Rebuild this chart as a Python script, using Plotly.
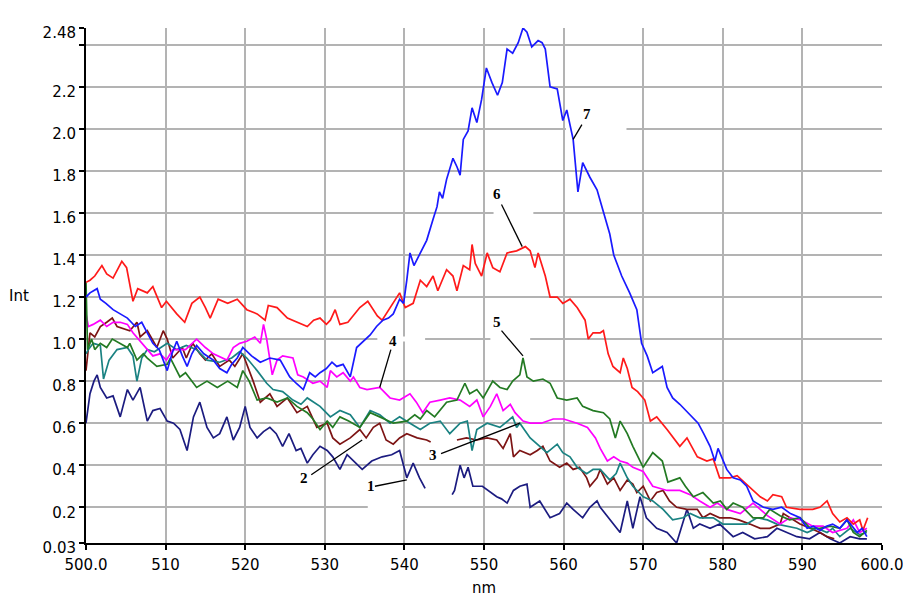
import plotly.graph_objects as go

# ---------------- data ----------------
x7 = [500.0, 500.5, 501.4, 501.8, 502.5, 503.4, 504.3, 505.2, 506.2, 507.0, 507.7, 508.4, 509.2, 510.2, 510.8,
      511.4, 512.1, 512.7, 513.3, 513.9, 514.8, 516.0, 516.8, 517.7, 518.3, 519.0, 519.7, 520.8, 521.9, 523.1,
      524.4, 525.0, 525.6, 526.4, 527.3, 528.1, 528.8, 529.4, 530.2, 530.9, 531.5, 532.3, 533.2, 534.0, 534.8,
      535.7, 536.5, 537.3, 538.0, 538.6, 539.4, 539.9, 540.3, 540.7, 541.2, 541.6, 542.2, 542.8, 543.6, 544.1,
      544.4, 544.8, 545.3, 546.1, 546.6, 547.0, 547.4, 548.0, 548.5, 549.1, 549.7, 550.3, 551.0, 551.7, 552.3,
      552.9, 553.6, 554.3, 554.9, 555.4, 556.0, 556.8, 557.3, 557.7, 558.3, 559.2, 559.9, 560.4, 561.2, 561.8,
      562.4, 563.3, 564.2, 565.0, 565.8, 566.3, 567.3, 568.3, 569.2, 569.8, 570.5, 571.2, 572.4, 573.0, 573.7,
      574.6, 575.6, 576.9, 577.6, 578.4, 579.0, 579.4, 580.5, 581.3, 582.2, 583.0, 583.8, 585.1, 586.3, 587.4,
      588.5, 589.7, 590.6, 591.4, 592.2, 593.0, 593.8, 594.7, 595.6, 596.3, 596.9, 597.5, 598.1]
y7 = [1.20, 1.22, 1.24, 1.19, 1.17, 1.14, 1.12, 1.10, 1.06, 1.08, 1.03, 0.98, 0.95, 0.85, 0.93,
      0.99, 0.92, 0.87, 0.93, 0.97, 0.93, 0.90, 0.86, 0.84, 0.88, 0.91, 0.96, 0.92, 0.89, 0.91,
      0.90, 0.86, 0.82, 0.79, 0.76, 0.84, 0.82, 0.84, 0.86, 0.89, 0.87, 0.88, 0.82, 0.96, 0.99,
      1.02, 1.06, 1.09, 1.10, 1.12, 1.19, 1.17, 1.28, 1.41, 1.35, 1.38, 1.43, 1.47, 1.57, 1.63,
      1.70, 1.67, 1.76, 1.86, 1.82, 1.78, 1.95, 1.99, 2.10, 2.03, 2.14, 2.29, 2.22, 2.16, 2.22,
      2.38, 2.36, 2.41, 2.48, 2.46, 2.39, 2.42, 2.41, 2.38, 2.20, 2.19, 2.04, 2.09, 1.95, 1.70,
      1.84, 1.77, 1.71, 1.60, 1.50, 1.40, 1.30, 1.22, 1.14, 0.98, 0.92, 0.84, 0.87, 0.77, 0.72,
      0.69, 0.65, 0.60, 0.55, 0.49, 0.42, 0.48, 0.38, 0.34, 0.33, 0.30, 0.23, 0.20, 0.19, 0.20,
      0.17, 0.15, 0.10, 0.11, 0.09, 0.11, 0.12, 0.10, 0.14, 0.11, 0.08, 0.10, 0.06]

x6 = [500.0, 500.5, 501.1, 502.0, 502.6, 503.4, 504.5, 505.1, 505.9, 506.5, 507.7, 508.4, 509.5, 510.1, 511.4,
      512.4, 513.3, 514.3, 515.0, 515.6, 516.6, 517.8, 519.0, 520.2, 521.5, 522.5, 522.9, 524.0, 525.3, 526.5,
      527.8, 528.6, 529.4, 530.2, 530.7, 531.3, 531.9, 532.9, 534.4, 535.4, 536.6, 537.2, 538.2, 539.4, 540.1,
      541.1, 542.0, 542.8, 543.6, 544.2, 545.3, 546.1, 546.6, 547.4, 548.2, 548.5, 548.9, 549.7, 550.4, 551.1,
      552.0, 552.9, 554.1, 555.2, 555.8, 556.4, 556.8, 557.7, 558.3, 559.2, 559.9, 560.8, 561.7, 562.7, 563.1,
      563.7, 564.6, 565.0, 565.6, 566.2, 567.1, 567.5, 568.0, 568.6, 569.3, 570.2, 570.9, 571.7, 573.0, 574.6,
      575.5, 576.8, 578.0, 578.8, 579.6, 580.9, 581.8, 583.0, 584.7, 585.6, 586.3, 587.4, 588.0, 589.7, 591.3,
      592.2, 593.1, 593.8, 594.7, 595.6, 596.4, 597.2, 597.6, 598.2]
y6 = [1.27, 1.28, 1.30, 1.35, 1.31, 1.29, 1.37, 1.34, 1.18, 1.24, 1.22, 1.25, 1.15, 1.18, 1.12,
      1.08, 1.17, 1.20, 1.15, 1.10, 1.19, 1.17, 1.19, 1.14, 1.12, 1.09, 1.16, 1.15, 1.10, 1.08,
      1.06, 1.09, 1.10, 1.07, 1.09, 1.14, 1.07, 1.08, 1.15, 1.18, 1.11, 1.09, 1.15, 1.22, 1.15,
      1.17, 1.28, 1.25, 1.30, 1.23, 1.33, 1.30, 1.23, 1.35, 1.33, 1.45, 1.36, 1.30, 1.41, 1.34,
      1.32, 1.41, 1.42, 1.44, 1.42, 1.34, 1.41, 1.30, 1.20, 1.20, 1.17, 1.19, 1.15, 1.09, 1.00,
      1.03, 1.03, 1.04, 0.93, 0.87, 0.84, 0.91, 0.86, 0.77, 0.75, 0.71, 0.61, 0.63, 0.57, 0.49,
      0.53, 0.44, 0.42, 0.43, 0.34, 0.34, 0.35, 0.31, 0.25, 0.23, 0.26, 0.25, 0.20, 0.19, 0.19,
      0.20, 0.23, 0.17, 0.13, 0.15, 0.12, 0.14, 0.09, 0.15]

x5 = [500.0, 500.2, 500.7, 501.1, 501.8, 502.6, 503.3, 504.3, 505.2, 505.5, 506.4, 507.2, 507.7, 508.9, 510.2,
      510.6, 511.8, 512.5, 513.9, 515.2, 516.5, 517.8, 519.0, 519.7, 520.5, 521.5, 522.7, 524.0, 525.3, 526.5,
      527.8, 528.5, 529.4, 530.3, 531.0, 531.9, 533.0, 534.4, 535.7, 536.9, 538.6, 540.3, 541.3, 542.0, 542.8,
      543.8, 545.3, 546.6, 547.6, 548.2, 549.1, 549.9, 551.1, 552.0, 552.9, 553.6, 554.5, 554.9, 555.4, 556.2,
      557.4, 558.3, 559.2, 560.4, 561.7, 562.4, 563.7, 565.0, 565.8, 566.5, 567.1, 568.0, 568.7, 570.0, 571.2,
      572.4, 573.1, 574.6, 575.3, 576.3, 577.5, 578.8, 579.7, 580.5, 581.3, 582.5, 583.8, 585.1, 585.9, 587.2,
      588.4, 589.7, 591.0, 592.2, 593.5, 594.7, 595.6, 596.4, 597.2, 598.1]
y5 = [1.27, 0.95, 1.00, 0.95, 0.98, 0.96, 1.00, 0.98, 0.96, 0.98, 0.90, 0.93, 0.91, 0.87, 0.88,
      0.91, 0.82, 0.84, 0.77, 0.80, 0.77, 0.80, 0.77, 0.85, 0.80, 0.71, 0.72, 0.70, 0.72, 0.68,
      0.65, 0.62, 0.57, 0.61, 0.58, 0.63, 0.61, 0.58, 0.65, 0.63, 0.60, 0.61, 0.64, 0.62, 0.66,
      0.63, 0.70, 0.71, 0.79, 0.74, 0.76, 0.72, 0.80, 0.77, 0.76, 0.80, 0.83, 0.91, 0.82, 0.80,
      0.81, 0.79, 0.72, 0.71, 0.72, 0.68, 0.66, 0.65, 0.62, 0.53, 0.61, 0.55, 0.49, 0.39, 0.46,
      0.42, 0.32, 0.34, 0.30, 0.25, 0.27, 0.22, 0.23, 0.19, 0.22, 0.20, 0.15, 0.15, 0.19, 0.16,
      0.14, 0.15, 0.10, 0.10, 0.11, 0.10, 0.14, 0.08, 0.06, 0.09]

x4 = [500.0, 500.3, 500.9, 501.8, 502.6, 503.4, 504.3, 505.2, 505.9, 506.8, 507.7, 508.4, 509.3, 510.1, 510.9,
      512.5, 513.9, 515.0, 516.0, 517.7, 518.5, 519.3, 520.2, 521.2, 521.9, 522.3, 522.7, 523.4, 524.0, 524.7,
      526.0, 526.6, 527.3, 528.5, 529.4, 530.3, 530.7, 531.5, 532.3, 533.2, 533.6, 534.4, 535.3, 536.9, 538.2,
      539.4, 540.7, 541.5, 542.3, 543.2, 544.5, 545.7, 547.0, 548.2, 549.1, 549.9, 550.8, 551.6, 552.4, 553.3,
      553.9, 554.9, 555.8, 557.2, 558.7, 560.0, 561.7, 563.0, 564.0, 564.6, 565.5, 566.3, 567.1, 568.0, 568.7,
      570.0, 571.2, 573.0, 574.6, 575.9, 577.1, 578.4, 579.3, 580.5, 582.2, 583.8, 585.6, 587.2, 588.4, 589.8,
      591.3, 592.6, 593.8, 595.6, 596.4, 597.2, 598.1]
y4 = [1.12, 1.06, 1.07, 1.09, 1.06, 1.08, 1.08, 1.07, 1.03, 0.99, 0.95, 0.92, 0.93, 0.90, 0.95,
      0.95, 1.00, 0.96, 0.93, 0.90, 0.96, 0.98, 0.99, 1.01, 0.98, 1.07, 1.00, 0.83, 0.90, 0.92,
      0.91, 0.83, 0.82, 0.79, 0.80, 0.77, 0.85, 0.82, 0.84, 0.80, 0.82, 0.77, 0.76, 0.77, 0.72,
      0.71, 0.74, 0.70, 0.65, 0.70, 0.71, 0.72, 0.71, 0.68, 0.71, 0.63, 0.68, 0.74, 0.66, 0.69,
      0.65, 0.61, 0.60, 0.60, 0.62, 0.62, 0.60, 0.58, 0.53, 0.48, 0.42, 0.44, 0.42, 0.41, 0.39,
      0.37, 0.30, 0.28, 0.28, 0.26, 0.23, 0.20, 0.22, 0.19, 0.17, 0.22, 0.16, 0.12, 0.15, 0.14,
      0.11, 0.11, 0.08, 0.10, 0.14, 0.08, 0.10]

x3 = [500.0, 500.3, 500.9, 501.8, 502.2, 502.9, 503.9, 505.2, 505.9, 506.4, 507.0, 507.7, 508.6, 510.2, 511.4,
      512.6, 513.9, 515.2, 516.8, 518.3, 519.3, 520.2, 521.5, 522.7, 523.5, 524.7, 526.0, 527.0, 527.8, 529.4,
      530.7, 531.9, 533.2, 534.4, 535.7, 536.9, 538.2, 539.4, 540.7, 542.0, 543.2, 544.5, 545.7, 547.0, 547.9,
      548.5, 549.1, 550.4, 552.0, 553.6, 554.1, 554.5, 555.8, 556.7, 557.9, 559.2, 559.9, 560.8, 561.7, 562.9,
      563.7, 564.6, 565.8, 566.6, 567.1, 568.0, 568.7, 570.0, 571.2, 572.5, 573.7, 575.0, 575.9, 577.1, 578.8,
      580.0, 581.3, 583.0, 584.3, 585.6, 586.8, 588.0, 589.3, 590.6, 591.8, 593.1, 593.8, 594.7, 596.0, 597.2,
      598.1]
y3 = [0.93, 0.95, 0.98, 0.97, 0.81, 0.90, 0.95, 0.96, 0.92, 0.80, 0.91, 0.95, 0.94, 0.98, 0.95,
      0.97, 0.95, 0.90, 0.89, 0.91, 0.94, 0.91, 0.85, 0.79, 0.76, 0.75, 0.71, 0.69, 0.72, 0.68,
      0.63, 0.66, 0.64, 0.58, 0.66, 0.64, 0.60, 0.63, 0.60, 0.57, 0.60, 0.61, 0.55, 0.60, 0.61,
      0.47, 0.57, 0.60, 0.58, 0.63, 0.58, 0.60, 0.53, 0.50, 0.46, 0.50, 0.46, 0.44, 0.39, 0.36,
      0.38, 0.38, 0.33, 0.36, 0.41, 0.34, 0.30, 0.25, 0.23, 0.19, 0.14, 0.15, 0.17, 0.15, 0.15,
      0.12, 0.12, 0.12, 0.15, 0.14, 0.12, 0.11, 0.10, 0.08, 0.10, 0.08, 0.10, 0.06, 0.10, 0.07,
      0.08]

x2 = [500.0, 500.5, 501.1, 501.8, 502.6, 503.3, 503.9, 504.6, 505.5, 506.4, 506.8, 507.7, 508.3, 508.9, 509.7,
      510.2, 510.9, 512.1, 512.6, 513.4, 514.3, 515.0, 515.8, 516.8, 518.0, 518.7, 519.7, 520.3, 521.0, 521.9,
      523.1, 524.0, 525.3, 526.5, 527.8, 529.0, 530.3, 531.0, 531.9, 533.2, 534.4, 535.2, 536.1, 536.9, 537.7,
      538.6, 539.4, 540.3, 541.6, 542.8, 543.3, None, 546.6, 547.8, 549.1, 550.4, 551.6, 552.4, 553.3, 553.7,
      554.5, 555.8, 556.7, 557.4, 558.3, 559.5, 560.4, 561.2, 562.0, 562.9, 563.3, 564.2, 564.6, 565.5, 566.3,
      567.1, 568.0, 568.7, 569.2, 570.0, 570.9, 571.7, 572.5, 573.3, 574.2, 575.5, 576.8, 577.5, 578.4, 579.6,
      580.9, 582.0, 583.4, 584.7, 585.9, 587.2, 587.6, 588.4, 589.7, 591.0, 592.2, 593.1, 594.0]
y2 = [0.85, 1.03, 1.01, 1.06, 1.08, 1.10, 1.06, 1.05, 1.04, 1.08, 1.01, 1.04, 1.00, 0.96, 1.04,
      1.00, 0.91, 0.96, 0.91, 0.98, 0.93, 0.90, 0.93, 0.87, 0.90, 0.87, 0.93, 0.87, 0.80, 0.70,
      0.74, 0.68, 0.72, 0.65, 0.68, 0.58, 0.60, 0.53, 0.50, 0.53, 0.57, 0.53, 0.58, 0.60, 0.52,
      0.50, 0.53, 0.55, 0.53, 0.52, 0.51, None, 0.52, 0.53, 0.52, 0.53, 0.52, 0.48, 0.55, 0.44,
      0.47, 0.45, 0.47, 0.49, 0.42, 0.39, 0.41, 0.38, 0.39, 0.34, 0.30, 0.34, 0.38, 0.31, 0.34,
      0.28, 0.33, 0.31, 0.27, 0.30, 0.23, 0.27, 0.28, 0.23, 0.20, 0.19, 0.19, 0.15, 0.17, 0.15,
      0.15, 0.14, 0.12, 0.10, 0.10, 0.12, 0.17, 0.15, 0.12, 0.10, 0.08, 0.06, 0.05]

x1 = [500.0, 500.3, 500.5, 501.0, 501.4, 501.8, 502.6, 503.4, 504.3, 505.2, 505.9, 506.8, 507.7, 508.4, 509.3,
      510.2, 511.0, 511.8, 512.7, 513.5, 514.3, 515.2, 516.0, 516.8, 517.7, 518.5, 519.3, 520.0, 520.6, 521.5,
      522.3, 523.1, 523.9, 524.7, 525.5, 526.4, 527.0, 527.8, 528.5, 529.4, 530.3, 531.0, 531.9, 532.8, 533.9,
      534.7, 535.9, 537.2, 538.4, 539.4, 540.3, 541.1, 541.9, 542.6, None, 546.0, 546.3, 547.0, 547.5, 548.0,
      548.6, 549.8, 550.8, 551.6, 552.2, 552.9, 553.7, 554.5, 555.4, 555.8, 557.0, 558.3, 559.5, 560.4, 561.2,
      562.4, 563.3, 564.2, 564.6, 565.8, 567.1, 568.0, 568.7, 569.6, 570.4, 571.7, 573.0, 574.2, 575.5, 576.3,
      577.1, 578.4, 579.6, 581.3, 582.5, 584.0, 585.6, 586.8, 588.0, 589.3, 590.9, 592.2, 593.5, 594.7, 596.0,
      597.2, 598.1]
y1 = [0.60, 0.70, 0.74, 0.80, 0.83, 0.77, 0.72, 0.73, 0.63, 0.76, 0.71, 0.77, 0.61, 0.66, 0.67,
      0.61, 0.60, 0.57, 0.47, 0.63, 0.70, 0.58, 0.53, 0.55, 0.63, 0.52, 0.58, 0.68, 0.58, 0.53,
      0.56, 0.58, 0.55, 0.49, 0.55, 0.47, 0.48, 0.41, 0.45, 0.49, 0.47, 0.44, 0.38, 0.45, 0.41,
      0.38, 0.42, 0.44, 0.45, 0.47, 0.34, 0.41, 0.34, 0.29, None, 0.26, 0.28, 0.40, 0.34, 0.39,
      0.30, 0.30, 0.27, 0.25, 0.24, 0.22, 0.28, 0.30, 0.31, 0.20, 0.23, 0.15, 0.17, 0.22, 0.19,
      0.15, 0.20, 0.23, 0.20, 0.14, 0.08, 0.23, 0.10, 0.25, 0.15, 0.10, 0.08, 0.03, 0.19, 0.10,
      0.12, 0.10, 0.12, 0.06, 0.08, 0.05, 0.06, 0.10, 0.08, 0.06, 0.05, 0.08, 0.05, 0.03, 0.06,
      0.05, 0.05]

series_names = ["1", "2", "3", "4", "5", "6", "7"]
series_x = [x1, x2, x3, x4, x5, x6, x7]
series_y = [y1, y2, y3, y4, y5, y6, y7]
series_colors = ["#1c1c80", "#7d1414", "#1a8282", "#ff00ff", "#237a23", "#ff1a1a", "#1a1aff"]

x_tickvals = [500, 510, 520, 530, 540, 550, 560, 570, 580, 590, 600]
x_ticktext = ["500.0", "510", "520", "530", "540", "550", "560", "570", "580", "590", "600.0"]
y_tickvals = [0.03, 0.2, 0.4, 0.6, 0.8, 1.0, 1.2, 1.4, 1.6, 1.8, 2.0, 2.2, 2.4, 2.48]
y_ticktext = ["0.03", "0.2", "0.4", "0.6", "0.8", "1.0", "1.2", "1.4", "1.6", "1.8", "2.0", "2.2", "", "2.48"]

# curve labels: text position and leader line end points
label_text = ["7", "6", "5", "4", "3", "2", "1"]
label_pos = [(562.9, 2.07), (551.6, 1.69), (551.6, 1.08), (538.6, 0.99), (543.6, 0.45), (527.4, 0.34), (535.8, 0.30)]
leader = [((562.3, 2.02), (561.2, 1.95)), ((552.2, 1.64), (554.8, 1.44)), ((552.2, 1.04), (554.9, 0.92)),
          ((538.3, 0.95), (536.9, 0.77)), ((544.6, 0.455), (554.5, 0.60)), ((528.3, 0.355), (534.7, 0.52)),
          ((536.3, 0.30), (540.3, 0.33))]

# gaps in horizontal grid lines: (y, x0, x1)
grid_gaps = [(2.0, 560.3, 567.9), (1.6, 551.2, 556.2), (1.0, 536.6, 542.6), (1.0, 550.8, 555.8), (0.2, 535.4, 539.7)]

# ---------------- figure ----------------
# the page body adds an 8px offset, so the figure is 8px smaller than the window
FIG_W, FIG_H = 903, 588
ML, MR, MT, MB = 78, 29, 20, 53
plot_w = FIG_W - ML - MR
plot_h = FIG_H - MT - MB

fig = go.Figure()
for name, xs, ys, col in zip(series_names, series_x, series_y, series_colors):
    fig.add_trace(go.Scatter(x=xs, y=ys, mode="lines", name=name,
                             line=dict(color=col, width=1.7), connectgaps=False, showlegend=False))

shapes = []
for gy, gx0, gx1 in grid_gaps:
    shapes.append(dict(type="rect", xref="x", yref="y", x0=gx0, x1=gx1, y0=gy - 0.012, y1=gy + 0.012,
                       fillcolor="white", line=dict(width=0), layer="between"))
for (p0, p1) in leader:
    shapes.append(dict(type="line", xref="x", yref="y", x0=p0[0], y0=p0[1], x1=p1[0], y1=p1[1],
                       line=dict(color="black", width=1.3)))

annotations = []
for t, (tx, ty) in zip(label_text, label_pos):
    annotations.append(dict(x=tx, y=ty, xref="x", yref="y", text="<b>" + t + "</b>", showarrow=False,
                            xanchor="center", yanchor="middle",
                            font=dict(family="Liberation Serif", size=15, color="black")))
# axis titles placed like the reference (pixel positions in the window, minus the 8px page offset)
annotations.append(dict(x=(19 - 8 - ML) / plot_w, y=(FIG_H - MB - (296 - 8)) / plot_h, xref="paper", yref="paper",
                        text="Int", showarrow=False, xanchor="center", yanchor="middle",
                        font=dict(family="DejaVu Sans", size=15, color="black")))
annotations.append(dict(x=(484 - 8 - ML) / plot_w, y=(FIG_H - MB - (588 - 8)) / plot_h, xref="paper", yref="paper",
                        text="nm", showarrow=False, xanchor="center", yanchor="middle",
                        font=dict(family="DejaVu Sans", size=15, color="black")))

fig.update_layout(
    width=FIG_W, height=FIG_H,
    margin=dict(l=ML, r=MR, t=MT, b=MB, autoexpand=False),
    paper_bgcolor="white", plot_bgcolor="white",
    font=dict(family="DejaVu Sans", size=15, color="black"),
    shapes=shapes, annotations=annotations,
)

fig.update_xaxes(range=[500, 600], tickvals=x_tickvals, ticktext=x_ticktext,
                 showgrid=True, gridcolor="#b3b3b3", gridwidth=1.6,
                 showline=True, linecolor="black", linewidth=2,
                 ticks="outside", ticklen=5, tickwidth=1.5, tickcolor="black",
                 zeroline=False, tickfont=dict(size=15), ticklabelstandoff=2, automargin=False)
fig.update_yaxes(range=[0.03, 2.48], tickvals=y_tickvals, ticktext=y_ticktext,
                 showgrid=True, gridcolor="#b3b3b3", gridwidth=1.6,
                 showline=True, linecolor="black", linewidth=2,
                 ticks="outside", ticklen=5, tickwidth=1.5, tickcolor="black",
                 zeroline=False, tickfont=dict(size=15), ticklabelshift=5, automargin=False)

fig.write_html("out.html")
